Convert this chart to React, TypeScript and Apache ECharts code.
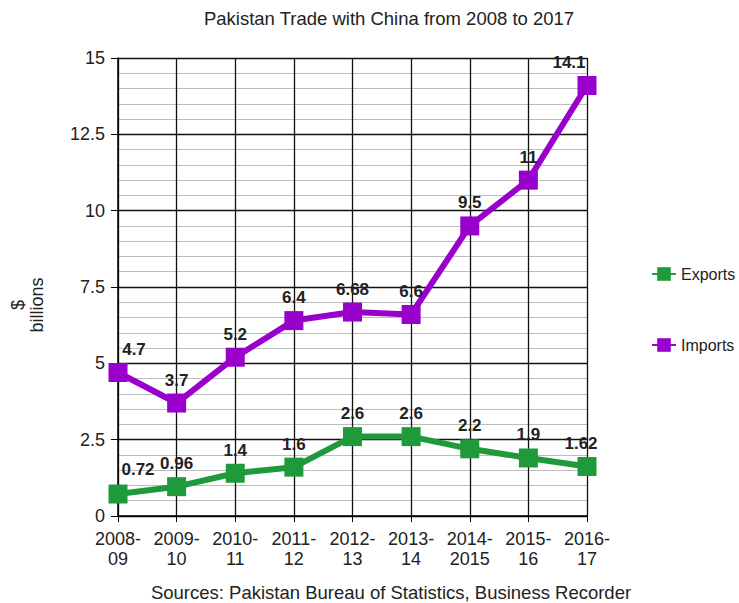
import React, { useEffect, useRef } from "react";
import * as echarts from "echarts";

const categories = ["2008-\n09", "2009-\n10", "2010-\n11", "2011-\n12", "2012-\n13", "2013-\n14", "2014-\n2015", "2015-\n16", "2016-\n17"];
const exportsData = [0.72, 0.96, 1.4, 1.6, 2.6, 2.6, 2.2, 1.9, 1.62];
const importsData = [4.7, 3.7, 5.2, 6.4, 6.68, 6.6, 9.5, 11, 14.1];
const exportLabels = ["0.72", "0.96", "1.4", "1.6", "2.6", "2.6", "2.2", "1.9", "1.62"];
const importLabels = ["4.7", "3.7", "5.2", "6.4", "6.68", "6.6", "9.5", "11", "14.1"];

const GREEN = "#1f9a3b";
const PURPLE = "#9900cc";
const FONT = "Liberation Sans, Arial, sans-serif";

export default function App() {
  const ref = useRef<HTMLDivElement>(null);
  useEffect(() => {
    if (!ref.current) return;
    const chart = echarts.init(ref.current, undefined, { renderer: "svg" });
    const labelStyle = {
      show: true,
      position: "top" as const,
      distance: 5,
      fontFamily: FONT,
      fontSize: 17,
      fontWeight: "bold" as const,
      color: "#222",
    };
    const mk = (vals: number[], labels: string[], offsets: Record<number, number[]>) =>
      vals.map((v, i) => ({
        value: v,
        label: { formatter: labels[i], ...(offsets[i] ? { offset: offsets[i] } : {}) },
      }));
    chart.setOption({
      animation: false,
      backgroundColor: "#fff",
      textStyle: { fontFamily: FONT },
      title: [
        {
          text: "Pakistan Trade with China from 2008 to 2017",
          left: 389,
          textAlign: "center",
          top: 9,
          padding: 0,
          textStyle: { fontFamily: FONT, fontSize: 18.5, fontWeight: "normal", color: "#222" },
        },
        {
          text: "Sources: Pakistan Bureau of Statistics, Business Recorder",
          left: 391,
          textAlign: "center",
          top: 583,
          padding: 0,
          textStyle: { fontFamily: FONT, fontSize: 18.5, fontWeight: "normal", color: "#222" },
        },
      ],
      legend: {
        orient: "vertical",
        left: 646,
        top: 261,
        itemGap: 55,
        itemWidth: 24,
        itemHeight: 17,
        textStyle: { fontFamily: FONT, fontSize: 16, color: "#222" },
        data: ["Exports", "Imports"],
      },
      grid: { left: 107, right: 152, top: 58, bottom: 87 },
      xAxis: {
        type: "category",
        data: categories,
        boundaryGap: false,
        axisLine: { lineStyle: { color: "#000", width: 1.5 } },
        axisTick: { show: true, interval: 0, length: 6, lineStyle: { color: "#000" } },
        axisLabel: { interval: 0, fontFamily: FONT, fontSize: 18, color: "#222", lineHeight: 20, margin: 13 },
        splitLine: { show: true, interval: 0, lineStyle: { color: "#111", width: 1.3 } },
      },
      yAxis: {
        type: "value",
        min: 0,
        max: 15,
        interval: 2.5,
        name: "$\nbillions",
        nameLocation: "middle",
        nameRotate: 90,
        nameGap: 72,
        nameTextStyle: { fontFamily: FONT, fontSize: 18, color: "#222", lineHeight: 19, padding: [0, 36, 0, 0] },
        axisLine: { show: true, lineStyle: { color: "#000", width: 1.5 } },
        axisTick: { show: true, length: 7, lineStyle: { color: "#000" } },
        axisLabel: { fontFamily: FONT, fontSize: 18, color: "#222", margin: 13 },
        splitLine: { show: true, lineStyle: { color: "#111", width: 1.3 } },
        minorTick: { show: false, splitNumber: 5 },
        minorSplitLine: { show: true, lineStyle: { color: "#bdbdbd", width: 1 } },
      },
      series: [
        {
          name: "Exports",
          type: "line",
          data: mk(exportsData, exportLabels, { 0: [20, -2], 8: [-6, 0] }),
          symbol: "rect",
          symbolSize: 19,
          lineStyle: { color: GREEN, width: 6 },
          itemStyle: { color: GREEN },
          label: labelStyle,
          z: 3,
        },
        {
          name: "Imports",
          type: "line",
          data: mk(importsData, importLabels, { 0: [16, 0], 8: [-18, 0] }),
          symbol: "rect",
          symbolSize: 19,
          lineStyle: { color: PURPLE, width: 6 },
          itemStyle: { color: PURPLE },
          label: labelStyle,
          z: 3,
        },
      ],
    });
    return () => chart.dispose();
  }, []);
  return <div ref={ref} style={{ position: "absolute", left: 0, top: 0, width: 739, height: 603 }} />;
}
